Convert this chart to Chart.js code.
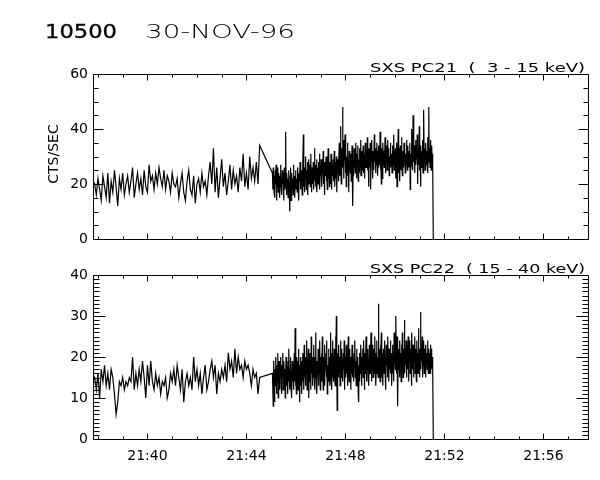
<!DOCTYPE html>
<html><head><meta charset="utf-8">
<script src="https://cdn.jsdelivr.net/npm/chart.js@4/dist/chart.umd.min.js"></script>
<style>
html,body{margin:0;padding:0;background:#fff;}
#wrap{position:relative;width:600px;height:480px;overflow:hidden;background:#fff;}
canvas{position:absolute;left:0;}
#c1{top:0;width:600px;height:255px;}
#c2{top:255px;width:600px;height:225px;}
</style></head><body>
<div id="wrap"><canvas id="c1" width="600" height="255"></canvas><canvas id="c2" width="600" height="225"></canvas></div>
<script>
// ---- data (minutes after 21:00, counts/sec) ----
const sparseStart = 37.8;      // first sample time (min)
const sparseStepSec = 4;       // sample spacing (s)
const denseStart = 45.05;
const denseStepSec = 1;

const pc21Sparse = [21,20,16,22,18,14,23,19,15,24,13,
 21,17,25,19,12,22,18,24,16,20,
 23,17,21,26,15,20,24,18,22,16,
 25,19,17,27,21,23,18,24,20,26,
 22,19,25,18,23,21,17,24,20,19,
 22,15,20,24,17,14,21,25,18,16,
 23,13,20,22,17,24,19,21,16,23,
 28,20,33,17,26,15,22,29,19,24,
 16,21,27,18,25,20,23,17,26,21,
 31,19,24,18,30,22,26,21,28,20,34];

const pc21Dense = [24,18,26,21,17,23,15,25,20,27,
 14,22,19,26,17,24,21,15,23,19,
 27,18,22,16,25,20,24,14,21,26,
 18,23,39,20,16,24,19,22,15,25,
 21,17,10,23,26,14,20,24,18,22,
 16,27,19,23,15,21,25,18,22,20,
 17,26,23,19,14,24,21,28,18,23,
 20,25,16,22,27,38,19,24,17,26,
 22,30,18,25,21,28,16,24,29,20,
 23,27,19,31,22,17,26,24,20,28,
 18,25,33,21,27,19,24,29,17,23,
 26,20,28,22,31,18,25,23,29,21,
 19,27,24,32,20,26,16,28,23,25,
 30,21,27,18,24,33,22,26,19,28,
 24,20,31,25,18,27,23,29,21,26,
 32,19,25,28,22,30,17,26,24,29,
 21,27,35,23,30,41,25,20,33,28,
 48,26,36,22,31,29,38,24,33,19,
 30,27,35,23,29,17,32,26,28,24,
 31,21,27,34,25,12,29,23,33,26,
 30,24,35,28,22,31,27,34,21,29,
 26,33,25,30,36,23,28,32,25,29,
 34,24,31,27,22,35,29,26,32,28,
 37,25,30,19,33,28,26,35,18,31,
 29,36,27,22,32,30,25,38,28,33,
 24,31,27,35,29,23,32,26,34,30,
 27,39,25,31,20,33,22,30,35,27,
 32,26,29,37,24,31,28,34,25,30,
 36,27,33,23,30,28,35,26,31,29,
 24,34,30,27,38,25,32,29,33,22,
 31,35,19,30,28,40,24,33,29,21,
 34,25,31,37,28,23,32,30,26,35,
 29,33,24,31,27,36,30,25,34,28,
 32,26,30,35,18,31,28,40,27,33,
 25,45,30,28,34,24,31,36,27,32,
 29,38,20,30,33,27,41,25,31,19,
 34,26,32,29,36,24,31,47,28,33,
 25,30,35,27,32,29,37,24,31,48,
 28,33,26,36,30,25,34,29,31,26,
 0];

const pc22Sparse = [14,15,12,16,10,17,14,18,13,16,12,
 17,15,11,6,9,14,13,15,12,14,
 13,15,14,20,12,16,13,17,14,19,
 15,10,18,13,19,14,12,16,13,15,
 11,14,13,15,10,12,16,14,17,13,
 18,15,12,17,9,14,16,13,15,12,
 20,14,17,13,16,11,15,18,12,14,
 17,19,15,18,11,16,14,17,15,18,
 14,21,17,19,15,22,16,20,17,18,
 15,19,17,18,16,13,17,15,16,11,15];

const pc22Dense = [16,12,8,19,14,9,17,13,20,15,
 11,18,14,21,10,16,19,12,17,15,
 20,13,11,18,15,21,12,16,19,14,
 17,10,15,20,13,18,16,11,19,14,
 22,15,12,17,20,13,16,10,19,14,
 18,12,16,21,14,27,13,17,11,20,
 15,19,12,16,22,14,9,18,13,20,
 16,11,19,14,21,17,12,23,15,18,
 13,20,16,24,12,19,15,22,10,17,
 21,14,18,12,25,16,20,13,19,15,
 23,17,12,20,15,26,14,19,11,18,
 16,22,13,19,17,24,12,20,15,21,
 14,25,18,12,20,16,23,13,19,17,
 21,15,24,11,18,16,22,14,20,13,
 19,26,15,21,12,18,24,16,20,14,
 22,17,13,25,19,30,16,7,21,18,
 15,23,17,20,13,24,18,15,22,16,
 19,14,21,17,24,12,20,18,15,23,
 16,21,13,19,25,17,14,22,18,20,
 12,19,16,23,15,20,18,14,21,17,
 24,15,19,13,22,17,20,16,11,9,
 18,14,21,16,23,19,13,20,17,22,
 15,24,18,12,21,16,19,25,14,20,
 17,22,15,19,13,23,18,16,21,26,
 14,20,17,23,15,19,22,16,25,18,
 21,13,19,24,16,20,15,33,18,22,
 17,14,23,19,26,15,21,18,13,22,
 20,16,24,17,19,12,23,18,21,15,
 25,19,14,22,17,20,24,16,21,13,
 18,23,16,20,14,26,19,22,17,30,
 21,16,25,19,8,22,17,20,15,24,
 18,21,14,23,17,26,19,15,22,20,
 29,16,21,18,24,15,20,23,17,25,
 14,21,19,24,16,22,18,13,26,20,
 17,23,15,21,19,25,16,22,18,14,
 24,19,21,16,27,18,22,15,20,31,
 17,23,19,25,15,21,18,24,16,22,
 20,15,23,18,21,17,24,19,16,22,
 18,21,16,23,19,22,17,20,18,17,
 0];

const xTickMinutes = [40,44,48,52,56];
const xTickLabels = ['21:40','21:44','21:48','21:52','21:56'];
const pc21YTicks = [0,20,40,60];
const pc22YTicks = [0,10,20,30,40];
const xRange = [37.8, 57.8];

const mainTitleId = '10500';
const mainTitleDate = '30-NOV-96';
const pc21Title = 'SXS PC21  (  3 - 15 keV)';
const pc22Title = 'SXS PC22  ( 15 - 40 keV)';
const yAxisTitle = 'CTS/SEC';

// ---- helpers ----
function toPoints(start, stepSec, vals){
  return vals.map((v,i)=>({x: start + i*stepSec/60, y: v}));
}
function series(sparse, dense){
  return toPoints(sparseStart, sparseStepSec, sparse).concat(toPoints(denseStart, denseStepSec, dense));
}
function drawFit(ctx, text, x, y, targetW, align, strokeW){
  const w = ctx.measureText(text).width;
  const sx = targetW / w;
  ctx.save();
  ctx.translate(align === 'right' ? x - targetW : x, y);
  ctx.scale(sx, 1);
  ctx.textAlign = 'left';
  ctx.fillText(text, 0, 0);
  if (strokeW){ ctx.lineWidth = strokeW; ctx.strokeStyle = '#000'; ctx.strokeText(text, 0, 0); }
  ctx.restore();
}

function boxPlugin(opts){
  return {
    id: 'idlbox',
    afterDraw(chart){
      const ctx = chart.ctx, a = chart.chartArea;
      const xs = chart.scales.x, ys = chart.scales.y;
      ctx.save();
      ctx.strokeStyle = '#000';
      ctx.lineWidth = 1;
      const L = Math.round(a.left)+0.5, R = Math.round(a.right)+0.5, T = Math.round(a.top)+0.5, B = Math.round(a.bottom)+0.5;
      ctx.beginPath();
      ctx.rect(L, T, R-L, B-T);
      for (let v = ys.min; v <= ys.max + 1e-9; v += opts.yMinor){
        const py = Math.round(ys.getPixelForValue(v)) + 0.5;
        const len = (Math.abs(v % opts.yMajor) < 1e-9) ? opts.yMajorLen : opts.yMinorLen;
        ctx.moveTo(L, py); ctx.lineTo(L + len, py);
        ctx.moveTo(R, py); ctx.lineTo(R - len, py);
      }
      for (let m = Math.ceil(xs.min); m <= xs.max; m += 1){
        const px = Math.round(xs.getPixelForValue(m)) + 0.5;
        const len = (m % 4 === 0) ? 6 : 3;
        ctx.moveTo(px, B); ctx.lineTo(px, B - len);
        ctx.moveTo(px, T); ctx.lineTo(px, T + len);
      }
      ctx.stroke();
      ctx.fillStyle = '#000';
      ctx.textBaseline = 'alphabetic';
      ctx.font = '12px "DejaVu Sans"';
      drawFit(ctx, opts.panelTitle, 585, a.top - 2, 215, 'right');
      if (opts.main){
        ctx.font = '20px "DejaVu Sans"';
        drawFit(ctx, mainTitleId, 45, 38, 72, 'left', 0.3);
        ctx.font = '200 20px "DejaVu Sans"';
        drawFit(ctx, mainTitleDate, 145, 38, 150, 'left');
        ctx.save();
        ctx.font = '14px "DejaVu Sans"';
        ctx.translate(58, 154);
        ctx.rotate(-Math.PI/2);
        ctx.textAlign = 'center';
        ctx.textBaseline = 'alphabetic';
        ctx.fillText(yAxisTitle, 0, 0);
        ctx.restore();
      }
      ctx.restore();
    }
  };
}

function makeChart(id, data, yTicks, showX, padTop, xHeight, opts){
  const ymax = yTicks[yTicks.length-1];
  return new Chart(document.getElementById(id), {
    type: 'line',
    data: { datasets: [{
      data: data, borderColor: '#000', borderWidth: 1.2, pointRadius: 0,
      tension: 0, fill: false, spanGaps: true
    }]},
    options: {
      responsive: false, animation: false, devicePixelRatio: 1,
      parsing: false, normalized: true,
      layout: { padding: { left: 0, right: 12, top: padTop, bottom: 0 } },
      plugins: { legend: { display: false }, tooltip: { enabled: false }, title: { display: false } },
      scales: {
        x: {
          type: 'linear', min: xRange[0], max: xRange[1],
          grid: { display: false, drawTicks: false }, border: { display: false },
          afterBuildTicks: s => { s.ticks = xTickMinutes.map(v => ({ value: v })); },
          afterFit: s => { s.height = xHeight; },
          ticks: {
            display: showX, padding: 9, color: '#000', maxRotation: 0, autoSkip: false,
            font: { family: 'DejaVu Sans', size: 14 },
            callback: (v) => { const i = xTickMinutes.indexOf(v); return i >= 0 ? xTickLabels[i] : ''; }
          }
        },
        y: {
          min: 0, max: ymax,
          grid: { display: false, drawTicks: false }, border: { display: false },
          afterBuildTicks: s => { s.ticks = yTicks.map(v => ({ value: v })); },
          afterFit: s => { s.width = 93; },
          ticks: { padding: 5, color: '#000', font: { family: 'DejaVu Sans', size: 14 } }
        }
      }
    },
    plugins: [boxPlugin(opts)]
  });
}

makeChart('c1', series(pc21Sparse, pc21Dense), pc21YTicks, false, 74, 16,
  { yMinor: 5, yMajor: 20, yMinorLen: 5, yMajorLen: 10, panelTitle: pc21Title, main: true });
makeChart('c2', series(pc22Sparse, pc22Dense), pc22YTicks, true, 20, 41,
  { yMinor: 1, yMajor: 10, yMinorLen: 6, yMajorLen: 12, panelTitle: pc22Title, main: false });
</script>
</body></html>
